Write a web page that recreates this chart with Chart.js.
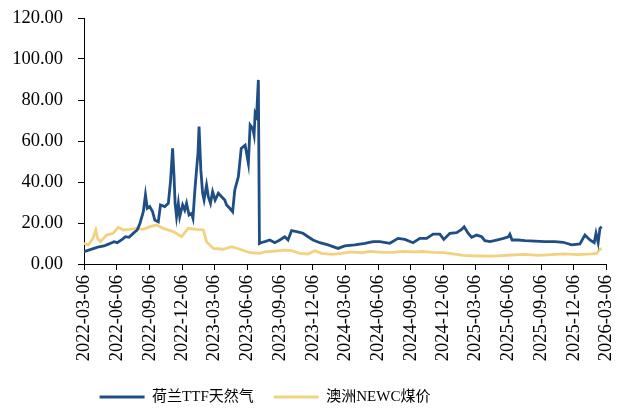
<!DOCTYPE html>
<html lang="zh">
<head>
  <meta charset="UTF-8">
  <title>TTF vs NEWC</title>
  <script src="https://cdn.jsdelivr.net/npm/chart.js"></script>
  <style>
    html, body { margin: 0; padding: 0; background: #fff; }
    #wrap { width: 621px; height: 410px; }
  </style>
</head>
<body>
  <div id="wrap"><canvas id="priceChart" width="621" height="410"></canvas></div>

  <script>
    const seriesNames = ['荷兰TTF天然气', '澳洲NEWC煤价'];

    const tickDates = ['2022-03-06', '2022-06-06', '2022-09-06', '2022-12-06', '2023-03-06', '2023-06-06',
      '2023-09-06', '2023-12-06', '2024-03-06', '2024-06-06', '2024-09-06', '2024-12-06',
      '2025-03-06', '2025-06-06', '2025-09-06', '2025-12-06', '2026-03-06'];

    const ttfDates = ['2022-03-06', '2022-04-03', '2022-04-17', '2022-05-01', '2022-05-15', '2022-05-29',
      '2022-06-07', '2022-06-21', '2022-06-30', '2022-07-10', '2022-07-24', '2022-08-02', '2022-08-10',
      '2022-08-19', '2022-08-25', '2022-08-30', '2022-09-06', '2022-09-14', '2022-09-20', '2022-09-30',
      '2022-10-06', '2022-10-18', '2022-10-28', '2022-11-03', '2022-11-09', '2022-11-13', '2022-11-16',
      '2022-11-20', '2022-11-25', '2022-11-29', '2022-12-07', '2022-12-13', '2022-12-18', '2022-12-25',
      '2023-01-01', '2023-01-05', '2023-01-10', '2023-01-15', '2023-01-19', '2023-01-22', '2023-01-27',
      '2023-02-01', '2023-02-05', '2023-02-12', '2023-02-17', '2023-02-23', '2023-03-01', '2023-03-08',
      '2023-03-17', '2023-03-26', '2023-04-04', '2023-04-09', '2023-04-18', '2023-04-26', '2023-05-02',
      '2023-05-12', '2023-05-20', '2023-05-31', '2023-06-09', '2023-06-14', '2023-06-21', '2023-06-25',
      '2023-06-28', '2023-07-02', '2023-07-07', '2023-07-10', '2023-07-16', '2023-07-25', '2023-08-08',
      '2023-08-22', '2023-09-05', '2023-09-19', '2023-09-28', '2023-10-08', '2023-10-22', '2023-11-09',
      '2023-11-23', '2023-12-07', '2023-12-26', '2024-01-18', '2024-02-15', '2024-03-05', '2024-04-02',
      '2024-04-30', '2024-05-23', '2024-06-11', '2024-07-09', '2024-08-01', '2024-08-20', '2024-09-12',
      '2024-10-01', '2024-10-20', '2024-11-07', '2024-11-26', '2024-12-07', '2024-12-24', '2025-01-12',
      '2025-01-26', '2025-02-02', '2025-02-13', '2025-02-23', '2025-03-09', '2025-03-23', '2025-04-01',
      '2025-04-15', '2025-05-04', '2025-05-23', '2025-06-06', '2025-06-10', '2025-06-16', '2025-07-03',
      '2025-07-22', '2025-08-19', '2025-09-16', '2025-10-14', '2025-11-06', '2025-11-30', '2025-12-23',
      '2026-01-06', '2026-01-20', '2026-02-01', '2026-02-06', '2026-02-12', '2026-02-17', '2026-02-22'];
    const ttfValues = [6.0, 7.6, 8.4, 8.8, 9.8, 10.9,
      10.4, 12.0, 13.3, 13.0, 15.3, 16.6, 20.0,
      25.5, 33.7, 27.2, 28.0, 25.5, 21.5, 20.6,
      28.8, 28.0, 29.6, 40.1, 56.4, 42.6, 29.6,
      23.1, 29.6, 23.1, 28.8, 26.3, 29.6, 23.9,
      24.7, 22.3, 35.3, 45.9, 54.0, 67.0, 45.9,
      34.5, 31.2, 38.5, 32.8, 29.6, 35.3, 31.2,
      34.5, 32.8, 31.2, 28.8, 27.2, 25.5, 36.1,
      42.6, 56.4, 58.0, 49.1, 67.8, 66.2, 62.9,
      73.5, 72.0, 89.8, 10.0, 10.5, 10.9, 11.7,
      10.4, 11.7, 13.3, 11.7, 16.3, 15.8, 15.0,
      13.3, 11.7, 10.4, 9.3, 7.6, 8.8, 9.3,
      10.1, 10.9, 10.9, 10.1, 12.5, 12.0, 10.4,
      12.5, 12.5, 14.6, 14.6, 12.0, 15.0, 15.3,
      16.9, 18.2, 15.0, 13.0, 14.1, 13.3, 11.4,
      10.9, 11.7, 12.5, 13.3, 14.5, 11.7, 11.7,
      11.4, 11.2, 10.9, 10.9, 10.6, 9.3, 9.8,
      14.1, 11.7, 10.4, 15.0, 10.4, 17.4, 18.2];

    const newcDates = ['2022-03-06', '2022-03-18', '2022-03-31', '2022-04-08', '2022-04-13', '2022-04-21',
      '2022-05-08', '2022-05-27', '2022-06-10', '2022-06-24', '2022-07-12', '2022-07-31', '2022-08-19',
      '2022-09-06', '2022-09-25', '2022-10-14', '2022-11-11', '2022-12-04', '2022-12-23', '2023-01-15',
      '2023-02-03', '2023-02-12', '2023-03-03', '2023-03-31', '2023-04-23', '2023-05-16', '2023-06-14',
      '2023-07-10', '2023-07-25', '2023-08-22', '2023-09-19', '2023-10-08', '2023-10-31', '2023-11-23',
      '2023-12-12', '2023-12-31', '2024-01-28', '2024-02-25', '2024-03-24', '2024-04-21', '2024-05-14',
      '2024-06-20', '2024-07-18', '2024-08-15', '2024-09-12', '2024-10-10', '2024-11-07', '2024-12-05',
      '2025-01-02', '2025-01-30', '2025-02-27', '2025-03-27', '2025-04-15', '2025-05-08', '2025-06-15',
      '2025-07-22', '2025-08-28', '2025-10-05', '2025-11-11', '2025-12-18', '2026-01-25', '2026-02-08',
      '2026-02-17', '2026-02-22'];
    const newcValues = [10.1, 9.3, 12.5, 16.6, 12.5, 10.9,
      14.1, 15.0, 17.9, 16.6, 16.9, 17.4, 16.9,
      18.2, 19.0, 17.4, 15.8, 13.3, 17.4, 16.9,
      16.6, 10.9, 7.6, 7.2, 8.4, 7.2, 5.5,
      5.2, 5.9, 6.3, 6.8, 6.5, 5.2, 4.9,
      6.5, 5.2, 4.7, 5.2, 5.9, 5.5, 6.2,
      5.7, 5.7, 6.2, 5.9, 6.1, 5.7, 5.5,
      4.9, 4.2, 4.0, 3.9, 3.8, 4.0, 4.4,
      4.7, 4.2, 4.6, 4.9, 4.6, 4.9, 5.2,
      7.2, 7.6];

    const startMs = Date.UTC(2022, 2, 6);
    function dayOf(s) {
      const p = s.split('-').map(Number);
      return (Date.UTC(p[0], p[1] - 1, p[2]) - startMs) / 86400000;
    }
    function toPoints(dates, values) {
      return dates.map((d, i) => ({ x: dayOf(d), y: values[i] }));
    }

    const tickDays = tickDates.map(dayOf);
    const family = '"Liberation Serif", "Times New Roman", "Noto Sans CJK SC", serif';
    const tickFont = { family: family, size: 18.5 };
    const legendFont = { family: family, size: 15 };
    const legendPad = 20;

    // move the legend row to sit left of centre, like the original
    const legendPlace = {
      id: 'legendPlace',
      beforeDraw(chart) {
        const lg = chart.legend;
        const h = lg.bottom - lg.top;
        lg.left = 0;
        lg.right = 530;
        lg.top = 397 - legendPad - 7.5;
        lg.bottom = lg.top + h;
      }
    };

    const ctx = document.getElementById('priceChart').getContext('2d');
    new Chart(ctx, {
      type: 'line',
      data: {
        datasets: [
          { label: seriesNames[0], data: toPoints(ttfDates, ttfValues), borderColor: '#1f4e84', backgroundColor: '#1f4e84', borderWidth: 2.8, pointRadius: 0, fill: false },
          { label: seriesNames[1], data: toPoints(newcDates, newcValues), borderColor: '#f2d27e', backgroundColor: '#f2d27e', borderWidth: 2.8, pointRadius: 0, fill: false }
        ]
      },
      plugins: [legendPlace],
      options: {
        responsive: false,
        animation: false,
        layout: { padding: { left: 0, right: 15, top: 18, bottom: 2 } },
        plugins: {
          tooltip: { enabled: false },
          legend: {
            position: 'bottom',
            labels: {
              usePointStyle: true,
              pointStyle: 'line',
              pointStyleWidth: 45,
              color: '#000',
              font: legendFont,
              padding: legendPad
            }
          }
        },
        scales: {
          x: {
            type: 'linear',
            min: 0,
            max: tickDays[tickDays.length - 1],
            afterBuildTicks: (scale) => { scale.ticks = tickDays.map(v => ({ value: v })); },
            afterFit: (scale) => { scale.height = 99; scale.paddingLeft = 0; scale.paddingRight = 0; },
            ticks: {
              autoSkip: false,
              minRotation: 90,
              maxRotation: 90,
              color: '#000',
              font: tickFont,
              padding: 5,
              callback: (v) => tickDates[tickDays.indexOf(v)]
            },
            grid: { display: true, drawOnChartArea: false, drawTicks: true, tickLength: 6, color: '#000' },
            border: { color: '#000', width: 1 }
          },
          y: {
            min: 0,
            max: 120,
            afterFit: (scale) => { scale.width = 84; scale.paddingTop = 0; scale.paddingBottom = 0; },
            ticks: {
              stepSize: 20,
              color: '#000',
              font: tickFont,
              padding: 15,
              callback: (v) => v.toFixed(2)
            },
            grid: { display: true, drawOnChartArea: false, drawTicks: true, tickLength: 6, color: '#000' },
            border: { color: '#000', width: 1 }
          }
        }
      }
    });
  </script>
</body>
</html>
